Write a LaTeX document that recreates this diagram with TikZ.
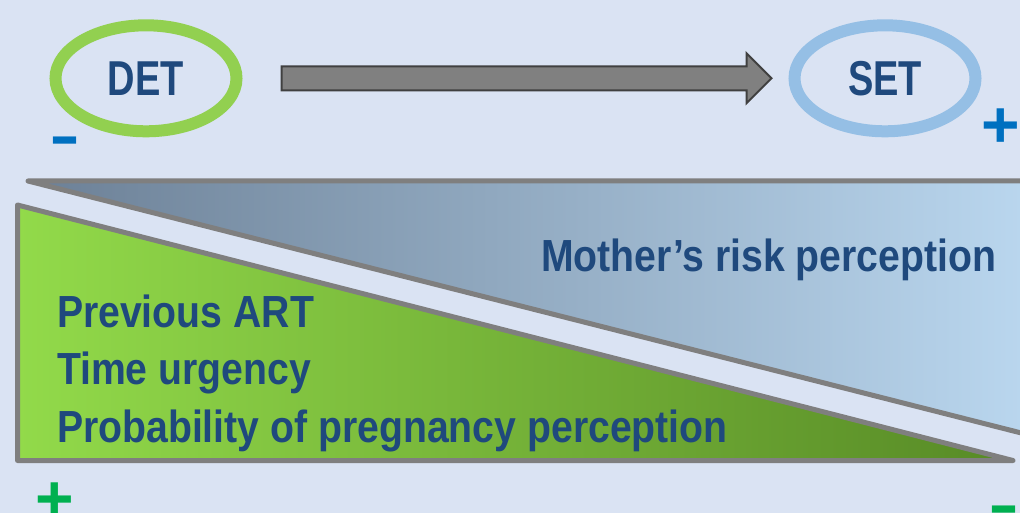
\documentclass[tikz,border=0pt]{standalone}
\usepackage{fontspec}
\setmainfont{Liberation Sans}
\usetikzlibrary{shapes.geometric,shapes.arrows}

\definecolor{bgblue}{HTML}{DAE3F3}
\definecolor{txtblue}{HTML}{1F497D}
\definecolor{detgreen}{HTML}{92D050}
\definecolor{setblue}{HTML}{95BFE5}
\definecolor{signblue}{HTML}{0070C0}
\definecolor{signgreen}{HTML}{00B050}
\definecolor{edgegray}{HTML}{7F7F7F}
\definecolor{arrowgray}{HTML}{808080}
\definecolor{arrowedge}{HTML}{404040}
\definecolor{greenlight}{HTML}{92DA4A}
\definecolor{greendark}{HTML}{578A26}
\definecolor{bluedark}{HTML}{6C8096}
\definecolor{bluelight}{HTML}{BBD8F0}

% squeeze text horizontally
\newcommand{\squeeze}[2]{\scalebox{#1}[1]{#2}}

\begin{document}
\begin{tikzpicture}[x=1pt,y=-1pt,
		every node/.style={inner sep=0pt, outer sep=0pt},
		state/.style={ellipse, line width=12pt, minimum width=181pt, minimum height=106pt,
			text=txtblue, font=\fontsize{49}{49}\selectfont\bfseries},
		factor/.style={anchor=base west, text=txtblue, font=\fontsize{45}{45}\selectfont\bfseries},
		sign/.style={anchor=base, font=\fontsize{66}{66}\selectfont\bfseries},
		wedge/.style={draw=edgegray, line width=5pt, line join=round},
		bigarrow/.style={single arrow, draw=arrowedge, fill=arrowgray, line width=2pt,
			inner ysep=11pt, minimum height=490pt, single arrow head extend=13pt,
			single arrow tip angle=90}]
		\clip (0,0) rectangle (1020,513);
		\fill [bgblue] (0,0) rectangle (1020,513);
		% the two wedges
		\shadedraw [wedge, left color=bluedark, right color=bluelight] (28,181) -- (1045,181) -- (1045,439) -- cycle;
		\shadedraw [wedge, left color=greenlight, right color=greendark] (17.5,205) -- (17.5,460.5) -- (1013,460.5) -- cycle;
		\node [factor] (risk) at (541,271) {\squeeze{0.871}{Mother’s risk perception}};
		\node [factor] (art) at (57,327) {\squeeze{0.871}{Previous ART}};
		\node [factor] (urgency) at (57,384) {\squeeze{0.871}{Time urgency}};
		\node [factor] (pregnancy) at (57,442) {\squeeze{0.871}{Probability of pregnancy perception}};
		% DET -> SET
		\node [state, draw=detgreen] (det) at (146,78.3) {\squeeze{0.776}{DET}};
		\node [state, draw=setblue] (set) at (885,78.3) {\squeeze{0.776}{SET}};
		\path (det) -- node [bigarrow, pos=0.509] (shift) {} (set);
		% signs
		\node [sign, text=signblue] (detminus) at (65,162.7) {\squeeze{0.7}{−}};
		\node [sign, text=signblue] (setplus) at (1000.5,148) {+};
		\node [sign, text=signgreen] (lowplus) at (55,521.5) {+};
		\node [sign, text=signgreen] (lowminus) at (1004,531.5) {\squeeze{0.7}{−}};
	\end{tikzpicture}
\end{document}
